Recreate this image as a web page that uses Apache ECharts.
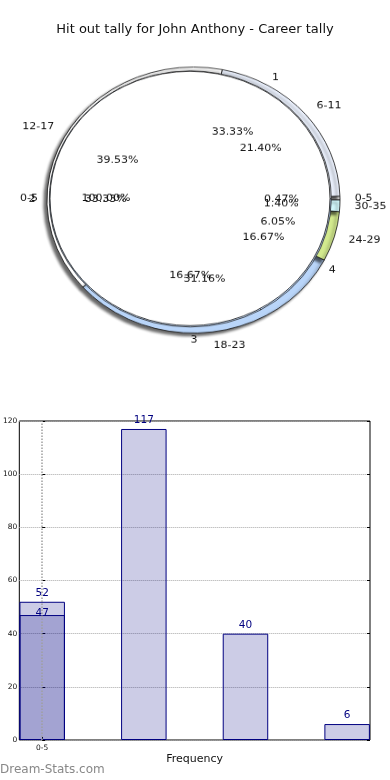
<!DOCTYPE html>
<html><head><meta charset="utf-8">
<script src="https://cdn.jsdelivr.net/npm/echarts@6/dist/echarts.min.js"></script>
<style>
html,body{margin:0;padding:0;background:#fff;}
#main{position:absolute;left:0;top:0;width:390px;height:780px;}
#pie{position:absolute;left:0;top:0;width:390px;height:400px;transform-origin:193.5px 200px;transform:scaleY(0.908);pointer-events:none;}
</style></head><body>
<div id="main"></div><div id="pie"></div>
<script>
const titleText = 'Hit out tally for John Anthony - Career tally';
const watermark = 'Dream-Stats.com';
// Outer ring: hit-out ranges
const rangeNames = ['0-5','6-11','12-17','18-23','24-29','30-35'];
const rangeValues = [1,46,85,67,13,3];
const rangeColors = ['#e0e0e0','#eaf0fc','#ffffff','#b9d5f9','#d3ea8e','#d2f7fb'];
// Second pie
const hitNames = ['1','2','3','4'];
const hitValues = [2,2,1,1];
const hitColors = ['#eaf0fc','#bcd6f8','#bcd6f8','#bcd6f8'];
// Third pie
const allNames = ['0-5'];
const allValues = [1];
const allColors = ['#ffffff'];
// Bar chart
const barX = [0,1,2,3];
const barValues = [52,117,40,6];
const barX2 = [0];
const barValues2 = [47];
const xTickValues = [0];
const xTickLabels = ['0-5'];
const xAxisName = 'Frequency';
const yMin = 0, yMax = 120, yStep = 20;

const FONT = 'DejaVu Sans';
const sum = a => a.reduce((s,v)=>s+v,0);

function pieData(names, values, colors){
  return names.map((n,i)=>({name:n, value:values[i], itemStyle:{color:colors[i]}}));
}
function drawSeries(names, values, colors, center, r, z, extra){
  return Object.assign({
    type:'pie', center:center, radius:[0,r], startAngle:0, clockwise:false,
    z:z, silent:true, animation:false, avoidLabelOverlap:false,
    label:{show:false}, labelLine:{show:false}, emphasis:{disabled:true},
    data:pieData(names, values, colors)
  }, extra||{});
}
// label alignment like the original: left of center -> right aligned, otherwise left aligned
function nameLabels(names, values, center, r, gap){
  const total = sum(values);
  let acc = 0;
  const aligns = values.map(v=>{
    const mid = (acc + v/2)/total*2*Math.PI; acc += v;
    return Math.cos(mid) < -1e-9 ? 'right' : 'left';
  });
  return {
    type:'pie', center:center, radius:[0,r], startAngle:0, clockwise:false,
    z:10, silent:true, animation:false, avoidLabelOverlap:false,
    labelLayout:p=>({hideOverlap:false, align:aligns[p.dataIndex]}),
    itemStyle:{color:'rgba(0,0,0,0)', borderWidth:0}, emphasis:{disabled:true},
    label:{show:true, position:'outside', formatter:'{b}', fontFamily:FONT, fontSize:11, color:'#111', distanceToLabelLine:gap},
    labelLine:{show:false, length:0.1*r, length2:0},
    data:names.map((n,i)=>({name:n, value:values[i]}))
  };
}
function pctLabels(names, values, center, r){
  const total = sum(values);
  return {
    type:'pie', center:center, radius:[0,1.2*r-6], startAngle:0, clockwise:false,
    z:11, silent:true, animation:false, avoidLabelOverlap:false,
    labelLayout:{hideOverlap:false},
    itemStyle:{color:'rgba(0,0,0,0)', borderWidth:0}, emphasis:{disabled:true},
    label:{show:true, position:'inside', fontFamily:FONT, fontSize:11, color:'#111',
      formatter:p=>(p.value/total*100).toFixed(2)+'%'},
    labelLine:{show:false},
    data:names.map((n,i)=>({name:n, value:values[i]}))
  };
}

const cA=[193.5,200], rA=146.5;
const cB=[190.3,198.8], rB=141;
const cC=[190,198.3], rC=140;

const pieChart = echarts.init(document.getElementById('pie'), null, {renderer:'canvas'});
pieChart.setOption({
  animation:false,
  backgroundColor:'transparent',
  series:[
    drawSeries(rangeNames, rangeValues, rangeColors, cA, rA, 2,
      {itemStyle:{borderColor:'#111', borderWidth:0.8, shadowColor:'rgba(0,0,0,0.6)', shadowBlur:3, shadowOffsetX:-3, shadowOffsetY:3}}),
    drawSeries(hitNames, hitValues, hitColors, cB, rB, 3,
      {itemStyle:{borderColor:'#222', borderWidth:0.8}}),
    drawSeries(allNames, allValues, allColors, cC, rC, 4,
      {itemStyle:{borderColor:'#111', borderWidth:0.8}}),
    nameLabels(rangeNames, rangeValues, cA, rA, 0),
    pctLabels(rangeNames, rangeValues, cA, rA),
    nameLabels(hitNames, hitValues, [192.5,199.5], rB, 2),
    pctLabels(hitNames, hitValues, cB, rB),
    nameLabels(allNames, allValues, cC, rC, -2),
    pctLabels(allNames, allValues, cC, rC)
  ]
});

const chart = echarts.init(document.getElementById('main'), null, {renderer:'canvas'});
chart.setOption({
  animation:false,
  backgroundColor:'#fff',
  textStyle:{fontFamily:FONT},
  title:[
    {text:titleText, left:'center', top:23, padding:0, textStyle:{fontFamily:FONT, fontSize:13, fontWeight:'normal', color:'#111'}},
    {text:watermark, left:0, top:764, padding:0, textStyle:{fontFamily:FONT, fontSize:12, fontWeight:'normal', color:'#888'}}
  ],
  grid:{left:19, top:421, width:351, height:319, show:true, borderColor:'#000', borderWidth:1, backgroundColor:'transparent'},
  xAxis:{
    type:'value', min:-0.225, max:3.225,
    axisLine:{show:false},
    axisTick:{show:true, inside:true, length:3, customValues:xTickValues, lineStyle:{color:'#000'}},
    axisLabel:{show:true, customValues:xTickValues, fontFamily:FONT, fontSize:7.5, color:'#111', margin:4,
      formatter:v=>{const i=xTickValues.indexOf(v); return i>=0?xTickLabels[i]:'';}},
    splitLine:{show:false},
    name:xAxisName, nameLocation:'middle', nameGap:14,
    nameTextStyle:{fontFamily:FONT, fontSize:11, color:'#111'}
  },
  yAxis:[{
    type:'value', min:yMin, max:yMax, interval:yStep,
    axisLine:{show:false},
    axisTick:{show:true, inside:true, length:3, lineStyle:{color:'#000'}},
    axisLabel:{fontFamily:FONT, fontSize:7.5, color:'#111', margin:2},
    splitLine:{show:true, lineStyle:{type:'dotted', color:'#a8a8a8', width:1}}
  },{
    type:'value', min:yMin, max:yMax, interval:yStep, position:'right',
    axisLine:{show:false},
    axisTick:{show:true, inside:true, length:3, lineStyle:{color:'#000'}},
    axisLabel:{show:false}, splitLine:{show:false}
  }],
  series:[
    {
      type:'bar', barWidth:45.5, barGap:'-100%', z:2,
      data:barX.map((x,i)=>[x,barValues[i]]),
      itemStyle:{color:'rgba(0,0,128,0.2)', borderColor:'#000080', borderWidth:1},
      label:{show:true, position:'top', distance:3, fontFamily:FONT, fontSize:10.5, color:'#000080'},
      markLine:{silent:true, symbol:'none', animation:false, label:{show:false},
        lineStyle:{type:'dotted', color:'#a0a0a0', width:1.5},
        data:xTickValues.map(v=>({xAxis:v}))}
    },
    {
      type:'bar', barWidth:45.5, barGap:'-100%', z:3,
      data:barX2.map((x,i)=>[x,barValues2[i]]),
      itemStyle:{color:'rgba(0,0,128,0.2)', borderColor:'#000080', borderWidth:1},
      label:{show:true, position:'top', distance:-4, fontFamily:FONT, fontSize:10.5, color:'#000080'}
    }
  ]
});
</script>
</body></html>
